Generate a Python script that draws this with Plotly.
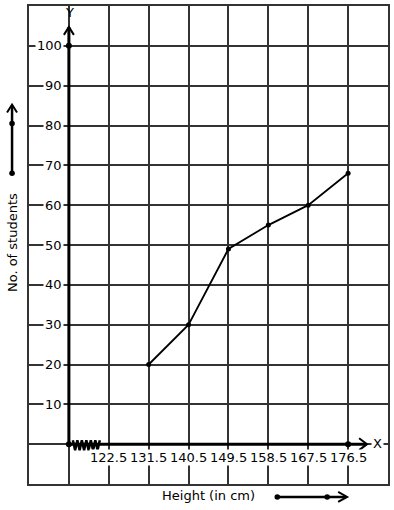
import plotly.graph_objects as go

# ---- data ----
heights = [131.5, 140.5, 149.5, 158.5, 167.5, 176.5]
students = [20, 30, 49, 55, 60, 68]
x_tick_labels = ["122.5", "131.5", "140.5", "149.5", "158.5", "167.5", "176.5"]
x_tick_vals = [122.5, 131.5, 140.5, 149.5, 158.5, 167.5, 176.5]
y_tick_vals = [10, 20, 30, 40, 50, 60, 70, 80, 90, 100]
x_origin = 113.5

W, H = 394, 510
L, R, T, B = 29, 5, 4, 26
PW, PH = W - L - R, H - T - B
XR = [104.5, 185.5]
YR = [-10, 110]


def px(x):  # pixel -> paper
    return (x - L) / PW


def py(y):
    return (H - B - y) / PH


def dx(pxv):  # pixel -> data
    return XR[0] + (pxv - L) / PW * (XR[1] - XR[0])


def dy(pyv):
    return YR[0] + (H - B - pyv) / PH * (YR[1] - YR[0])


fig = go.Figure()

# zigzag axis break
zz_x, zz_y = [], []
n_teeth = 6
x0, x1 = dx(73), dx(100)
step = (x1 - x0) / (2 * n_teeth)
for i in range(2 * n_teeth + 1):
    zz_x.append(x0 + i * step)
    zz_y.append(dy(440) if i % 2 == 0 else dy(450))
fig.add_trace(go.Scatter(x=zz_x, y=zz_y, mode="lines",
                         line=dict(color="black", width=2.5), hoverinfo="skip"))

# axes lines
fig.add_trace(go.Scatter(x=[x_origin, x_origin], y=[0, dy(25)], mode="lines",
                         line=dict(color="black", width=3), hoverinfo="skip"))
fig.add_trace(go.Scatter(x=[x_origin, dx(367)], y=[0, 0], mode="lines",
                         line=dict(color="black", width=3), hoverinfo="skip"))
# arrowheads on axes
fig.add_trace(go.Scatter(x=[dx(64), dx(69), dx(74)], y=[dy(33), dy(25), dy(33)],
                         mode="lines", line=dict(color="black", width=2), hoverinfo="skip"))
fig.add_trace(go.Scatter(x=[dx(360), dx(368), dx(360)], y=[dy(438), dy(444), dy(450)],
                         mode="lines", line=dict(color="black", width=2), hoverinfo="skip"))
# axis dots
fig.add_trace(go.Scatter(x=[x_origin, x_origin, max(x_tick_vals)],
                         y=[0, max(y_tick_vals), 0], mode="markers",
                         marker=dict(color="black", size=6), hoverinfo="skip"))

# data line
fig.add_trace(go.Scatter(x=heights, y=students, mode="lines+markers",
                         line=dict(color="black", width=1.8),
                         marker=dict(color="black", size=5)))

shapes = []
# left legend arrow
shapes.append(dict(type="line", xref="paper", yref="paper", x0=px(12), x1=px(12),
                   y0=py(172), y1=py(104), line=dict(color="black", width=2.5)))
shapes.append(dict(type="path", xref="paper", yref="paper",
                   path=f"M {px(7)} {py(111)} L {px(12)} {py(103)} L {px(17)} {py(111)}",
                   line=dict(color="black", width=2)))
# bottom legend arrow
shapes.append(dict(type="line", xref="paper", yref="paper", x0=px(278), x1=px(347),
                   y0=py(497), y1=py(497), line=dict(color="black", width=2.5)))
shapes.append(dict(type="path", xref="paper", yref="paper",
                   path=f"M {px(339)} {py(492)} L {px(348)} {py(497)} L {px(339)} {py(502)}",
                   line=dict(color="black", width=2)))
# legend dots
for (cx, cy) in [(12, 172), (12, 122), (278, 497), (328, 497)]:
    shapes.append(dict(type="circle", xref="paper", yref="paper",
                       x0=px(cx - 2.8), x1=px(cx + 2.8), y0=py(cy + 2.8), y1=py(cy - 2.8),
                       fillcolor="black", line=dict(color="black", width=0)))

font = dict(family="DejaVu Sans", size=13, color="black")
ann = []
for v in y_tick_vals:
    ann.append(dict(x=px(64), y=v, xref="paper", yref="y", text=str(v), showarrow=False,
                    xanchor="right", yanchor="middle", bgcolor="white", borderpad=1, font=font))
for v, t in zip(x_tick_vals, x_tick_labels):
    ann.append(dict(x=v, y=py(457), xref="x", yref="paper", text=t, showarrow=False,
                    xanchor="center", yanchor="middle", bgcolor="white", borderpad=0, font=font))
ann.append(dict(x=px(70), y=py(11), xref="paper", yref="paper", text="Y", showarrow=False,
                xanchor="center", yanchor="middle", font=font))
ann.append(dict(x=px(378), y=py(443), xref="paper", yref="paper", text="X", showarrow=False,
                xanchor="center", yanchor="middle", bgcolor="white", font=font))
ann.append(dict(x=px(12), y=py(242), xref="paper", yref="paper", text="No. of students",
                showarrow=False, textangle=-90, xanchor="center", yanchor="middle",
                font=dict(family="DejaVu Sans", size=13, color="black")))
ann.append(dict(x=px(209), y=py(496), xref="paper", yref="paper", text="Height (in cm)",
                showarrow=False, xanchor="center", yanchor="middle",
                font=dict(family="DejaVu Sans", size=13, color="black")))

fig.update_layout(
    width=W, height=H, margin=dict(l=L, r=R, t=T, b=B, pad=0),
    paper_bgcolor="white", plot_bgcolor="white", showlegend=False,
    shapes=shapes, annotations=ann,
    xaxis=dict(range=XR, tick0=x_origin, dtick=9, showgrid=True, gridcolor="#333",
               gridwidth=1.5, showticklabels=False, zeroline=False, showline=True,
               linecolor="#333", linewidth=1.5, mirror=True, ticks="", fixedrange=True),
    yaxis=dict(range=YR, tick0=0, dtick=10, showgrid=True, gridcolor="#333",
               gridwidth=1.5, showticklabels=False, zeroline=False, showline=True,
               linecolor="#333", linewidth=1.5, mirror=True, ticks="", fixedrange=True),
)

fig.write_html("out.html", config={"displayModeBar": False},
               post_script="document.body.style.margin='0px';document.body.style.padding='0px';")
